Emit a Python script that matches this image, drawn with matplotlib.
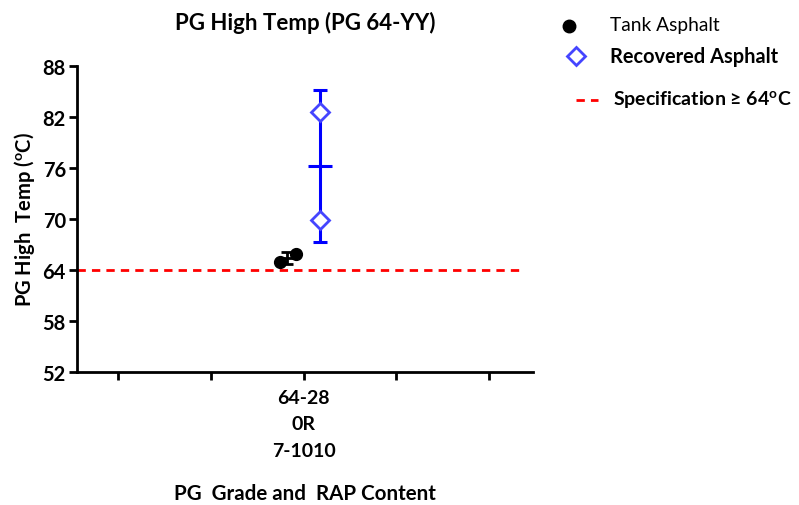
import numpy as np
import matplotlib.pyplot as plt
from matplotlib.lines import Line2D

plt.rcParams['font.family'] = ['Lato', 'DejaVu Sans']
plt.rcParams['mathtext.fontset'] = 'custom'
plt.rcParams['mathtext.rm'] = 'Lato'
plt.rcParams['mathtext.bf'] = 'Lato:bold'
plt.rcParams['mathtext.default'] = 'bf'

# data
categories = ['', '', '64-28\n0R\n7-1010', '', '']
cat_pos = np.arange(1, 6)
tank_values = [64.9, 65.9]
recovered_values = [82.6, 69.9]
spec_limit = 64
yticks = [52, 58, 64, 70, 76, 82, 88]

grp = 3  # category holding the data
tank_x = [grp - 0.25, grp - 0.08]
tank_err_x = grp - 0.18
rec_x = grp + 0.18

fig = plt.figure(figsize=(7.99, 5.06), dpi=100)
ax = fig.add_axes([77 / 799, 1 - 373 / 506, (533 - 77) / 799, (373 - 67) / 506])

# specification line
ax.plot([0.56, 5.35], [spec_limit, spec_limit], color='red', ls=(0, (3, 2.2)), lw=2, zorder=1)

# tank asphalt
ax.errorbar(tank_err_x, np.mean(tank_values), yerr=np.std(tank_values, ddof=1),
            fmt='_', color='black', ms=10, mew=2, elinewidth=2, capsize=4, capthick=2, zorder=3)
ax.plot(tank_x, tank_values, 'o', color='black', ms=8.5, zorder=4)

# recovered asphalt
ax.errorbar(rec_x, np.mean(recovered_values), yerr=np.std(recovered_values, ddof=1),
            fmt='_', color='#0000ff', ms=17, mew=2.2, elinewidth=2.2, capsize=5, capthick=2.2, zorder=3)
ax.plot([rec_x] * 2, recovered_values, 'D', mfc='white', mec='#4545ff', mew=2, ms=9, zorder=4)

ax.set_xlim(0.56, 5.47)
ax.set_ylim(52, 88)
ax.set_yticks(yticks)
ax.set_xticks(cat_pos)
ax.set_xticklabels(categories, fontsize=14, fontweight='bold', linespacing=1.7)
ax.tick_params(axis='y', labelsize=14.5, width=2, length=6, pad=2)
ax.tick_params(axis='x', width=2, length=6, pad=6)
for t in ax.get_yticklabels():
    t.set_fontweight('bold')
for s in ['top', 'right']:
    ax.spines[s].set_visible(False)
for s in ['left', 'bottom']:
    ax.spines[s].set_linewidth(2)

ax.set_title('PG High Temp (PG 64-YY)', fontsize=16, fontweight='bold', pad=27)
ax.set_ylabel('PG High  Temp ($^{o}$C)', fontsize=14.5, fontweight='bold', labelpad=4)
fig.text(305 / 799, 1 - 494 / 506, 'PG  Grade and  RAP Content', ha='center', va='center',
         fontsize=14.8, fontweight='bold')

# legend
fig.add_artist(Line2D([569 / 799], [1 - 27 / 506], marker='o', color='black', ms=9, ls=''))
fig.text(610 / 799, 1 - 26 / 506, 'Tank Asphalt', fontsize=13.8, va='center')
fig.add_artist(Line2D([576 / 799], [1 - 57 / 506], marker='D', mfc='white', mec='#4545ff',
                      mew=2, ms=9, ls=''))
fig.text(610 / 799, 1 - 57 / 506, 'Recovered Asphalt', fontsize=14.4, fontweight='bold', va='center')
fig.add_artist(Line2D([576 / 799, 598 / 799], [1 - 101 / 506] * 2, color='red',
                      ls=(0, (3, 2.2)), lw=2))
fig.text(613 / 799, 1 - 100 / 506, 'Specification \u2265 64$^{o}$C', fontsize=14,
         fontweight='bold', va='center')

fig.savefig('out.png', dpi=100)
